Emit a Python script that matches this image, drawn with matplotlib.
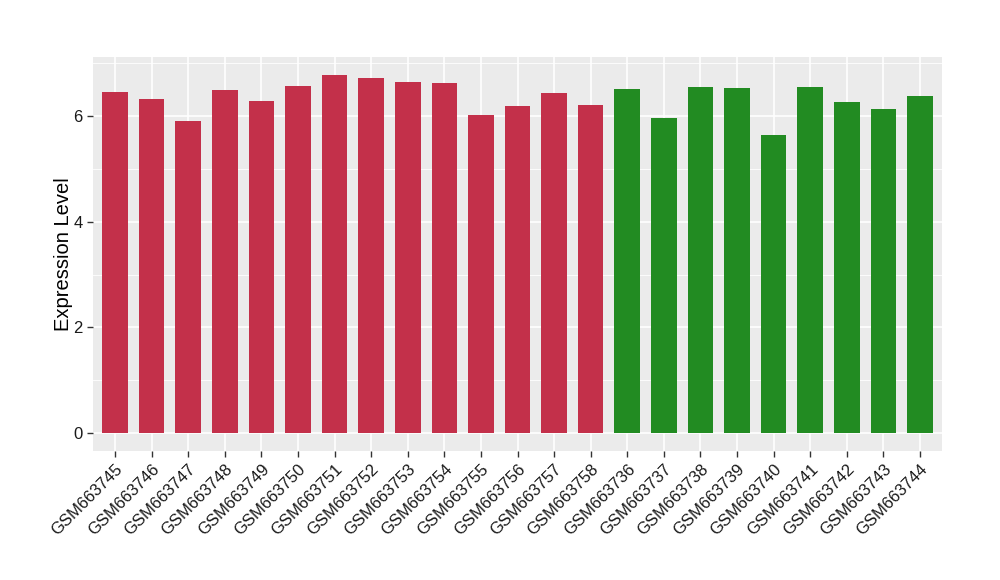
import numpy as np
import matplotlib
matplotlib.use('Agg')
import matplotlib.pyplot as plt

samples = ['GSM663745', 'GSM663746', 'GSM663747', 'GSM663748', 'GSM663749', 'GSM663750',
           'GSM663751', 'GSM663752', 'GSM663753', 'GSM663754', 'GSM663755', 'GSM663756',
           'GSM663757', 'GSM663758', 'GSM663736', 'GSM663737', 'GSM663738', 'GSM663739',
           'GSM663740', 'GSM663741', 'GSM663742', 'GSM663743', 'GSM663744']
expression = [6.45, 6.32, 5.90, 6.49, 6.28, 6.57, 6.77, 6.72, 6.64, 6.62, 6.02, 6.19,
              6.43, 6.22, 6.51, 5.96, 6.55, 6.53, 5.64, 6.55, 6.26, 6.13, 6.39]
groups = ['a'] * 14 + ['b'] * 9
group_colors = {'a': '#C3304A', 'b': '#228B22'}

plt.rcParams['font.family'] = ['Liberation Sans', 'DejaVu Sans']

fig = plt.figure(figsize=(10, 5.8), dpi=100)
ax = fig.add_axes([0.093, 0.2224, 0.849, 0.6793])
ax.set_facecolor('#EBEBEB')

x = np.arange(len(samples))
ax.bar(x, expression, width=0.7, color=[group_colors[g] for g in groups], zorder=3)

ax.set_xlim(-0.6, len(samples) - 0.4)
ax.set_ylim(-0.34, 7.12)
ax.set_yticks([0, 2, 4, 6])
ax.set_yticks([1, 3, 5, 7], minor=True)
ax.set_xticks(x)
ax.set_xticklabels(samples, rotation=45, ha='right', rotation_mode='anchor', fontsize=12, color='#1a1a1a')
ax.tick_params(axis='y', labelsize=12, labelcolor='#1a1a1a')
ax.tick_params(which='major', length=4, width=1, color='#333333')
ax.tick_params(which='minor', length=0)

ax.grid(which='major', color='white', linewidth=1.2, zorder=0)
ax.grid(which='minor', axis='y', color='white', linewidth=0.6, zorder=0)
ax.set_axisbelow(True)
for s in ax.spines.values():
    s.set_visible(False)

ax.set_ylabel('Expression Level', fontsize=14.5, labelpad=0)

fig.savefig('out.png', dpi=100)
